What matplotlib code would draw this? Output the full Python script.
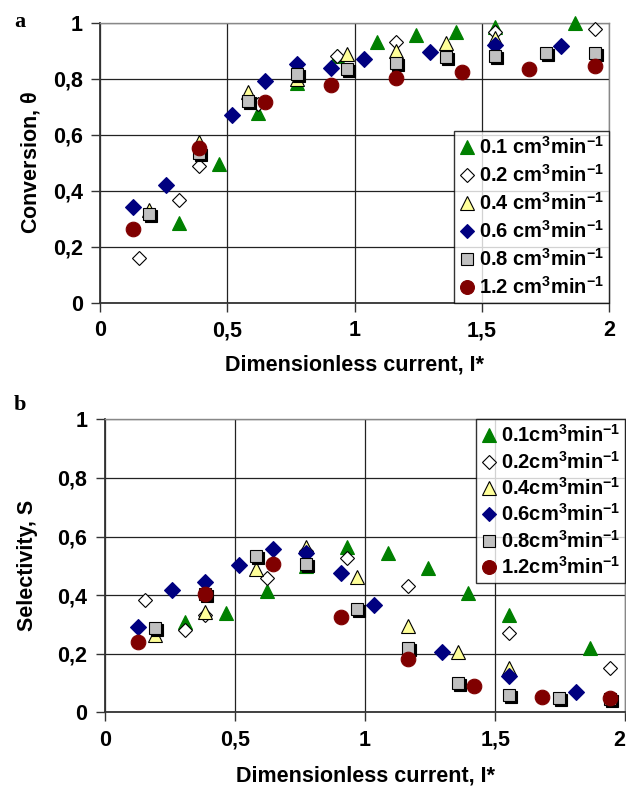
import matplotlib
matplotlib.use("Agg")
import matplotlib.pyplot as plt
from matplotlib import transforms

plt.rcParams['font.family'] = ['Liberation Sans', 'DejaVu Sans']
plt.rcParams['font.weight'] = 'bold'
plt.rcParams['axes.labelweight'] = 'bold'
plt.rcParams['mathtext.default'] = 'regular'

# ---- panel a: conversion ----
a_x_01 = [0.31, 0.467, 0.622, 0.776, 0.93, 1.09, 1.243, 1.40, 1.554, 1.865]
a_y_01 = [0.284, 0.495, 0.676, 0.786, 0.881, 0.932, 0.956, 0.968, 0.986, 0.998]
a_x_02 = [0.155, 0.31, 0.389, 0.622, 0.93, 1.165, 1.554, 1.944]
a_y_02 = [0.159, 0.367, 0.488, 0.71, 0.88, 0.932, 0.968, 0.976]
a_x_04 = [0.194, 0.389, 0.583, 0.776, 0.971, 1.165, 1.359, 1.554]
a_y_04 = [0.33, 0.575, 0.754, 0.80, 0.89, 0.90, 0.926, 0.944]
a_x_06 = [0.128, 0.259, 0.517, 0.648, 0.776, 0.906, 1.037, 1.296, 1.554, 1.813]
a_y_06 = [0.343, 0.42, 0.669, 0.792, 0.851, 0.839, 0.869, 0.896, 0.92, 0.918]
a_x_08 = [0.194, 0.389, 0.583, 0.776, 0.971, 1.165, 1.359, 1.554, 1.752, 1.944]
a_y_08 = [0.317, 0.536, 0.721, 0.817, 0.835, 0.857, 0.879, 0.881, 0.891, 0.893]
a_x_12 = [0.128, 0.389, 0.648, 0.906, 1.165, 1.424, 1.685, 1.944]
a_y_12 = [0.264, 0.551, 0.718, 0.776, 0.801, 0.824, 0.836, 0.845]

# ---- panel b: selectivity ----
b_x_01 = [0.308, 0.466, 0.622, 0.775, 0.931, 1.089, 1.242, 1.396, 1.553, 1.863]
b_y_01 = [0.307, 0.34, 0.414, 0.50, 0.565, 0.543, 0.491, 0.406, 0.332, 0.218]
b_x_02 = [0.155, 0.308, 0.385, 0.622, 0.775, 0.931, 1.166, 1.553, 1.942]
b_y_02 = [0.383, 0.281, 0.332, 0.459, 0.55, 0.528, 0.431, 0.27, 0.15]
b_x_04 = [0.193, 0.385, 0.583, 0.775, 0.97, 1.166, 1.358, 1.553]
b_y_04 = [0.264, 0.343, 0.488, 0.565, 0.463, 0.295, 0.207, 0.15]
b_x_06 = [0.129, 0.257, 0.385, 0.517, 0.647, 0.775, 0.906, 1.035, 1.294, 1.553, 1.812]
b_y_06 = [0.292, 0.417, 0.446, 0.503, 0.556, 0.545, 0.477, 0.366, 0.207, 0.124, 0.07]
b_x_08 = [0.193, 0.385, 0.583, 0.775, 0.97, 1.166, 1.358, 1.553, 1.745, 1.942]
b_y_08 = [0.287, 0.404, 0.535, 0.506, 0.353, 0.218, 0.101, 0.059, 0.048, 0.045]
b_x_12 = [0.129, 0.385, 0.647, 0.906, 1.166, 1.42, 1.681, 1.942]
b_y_12 = [0.241, 0.404, 0.505, 0.326, 0.181, 0.09, 0.053, 0.048]

flows = ['0.1', '0.2', '0.4', '0.6', '0.8', '1.2']
x_ticks = [0, 0.5, 1, 1.5, 2]
x_labels = ['0', '0,5', '1', '1,5', '2']
y_ticks = [0, 0.2, 0.4, 0.6, 0.8, 1]
y_labels = ['0', '0,2', '0,4', '0,6', '0,8', '1']

# marker, size, face, edge
styles = [
    ('^', 10, '#008000', '#008000'),
    ('D', 7, 'white', 'black'),
    ('^', 10, '#FFFF99', 'black'),
    ('D', 8, '#000080', '#000080'),
    ('s', 8.5, '#C0C0C0', 'black'),
    ('o', 10.5, '#800000', '#800000'),
]


def draw_panel(fig, ax, series, ylabel, sep, ylabelpad, xlabelpad, leg_kw):
    for i, (xs, ys) in enumerate(series):
        m, ms, fc, ec = styles[i]
        if m == 's':
            # black drop shadow behind the grey squares
            shadow = transforms.offset_copy(ax.transData, fig=fig, x=2, y=-2, units='dots')
            ax.plot(xs, ys, ls='none', marker='s', ms=ms, mfc='black', mec='black',
                    mew=0.8, transform=shadow, clip_on=False, zorder=3 + i)
        ax.plot(xs, ys, ls='none', marker=m, ms=ms, mfc=fc, mec=ec, mew=0.8,
                label=flows[i] + sep + 'cm$^3$min$^{-1}$', clip_on=False, zorder=3 + i)

    ax.set_xlim(0, 2)
    ax.set_ylim(0, 1)
    ax.set_xticks(x_ticks)
    ax.set_xticklabels(x_labels)
    ax.set_yticks(y_ticks)
    ax.set_yticklabels(y_labels)
    ax.tick_params(direction='out', length=6.5, width=1, labelsize=15.5, pad=6,
                   color='#333333')
    ax.grid(True, color='#222222', lw=0.9)
    ax.set_axisbelow(True)
    for s in ['left', 'bottom']:
        ax.spines[s].set_color('#333333')
        ax.spines[s].set_linewidth(1.3)
    for s in ['top', 'right']:
        ax.spines[s].set_color('#888888')
        ax.spines[s].set_linewidth(1)
    ax.set_xlabel('Dimensionless current, I*', fontsize=15.5, labelpad=xlabelpad)
    ax.set_ylabel(ylabel, fontsize=15.5, labelpad=ylabelpad)

    leg = ax.legend(fontsize=14.5, frameon=True, fancybox=False,
                    edgecolor='black', borderaxespad=0, handlelength=0.8,
                    handletextpad=0.2, borderpad=0.25, markerscale=0.95, **leg_kw)
    leg.get_frame().set_linewidth(1)
    leg.set_zorder(20)


fig = plt.figure(figsize=(6.26, 7.88), dpi=100)
ax_a = fig.add_axes([100 / 626, 1 - 302.7 / 788, 509 / 626, 280 / 788])
ax_b = fig.add_axes([104.7 / 626, 1 - 712.3 / 788, 520.6 / 626, 293 / 788])

draw_panel(fig, ax_a,
           [(a_x_01, a_y_01), (a_x_02, a_y_02), (a_x_04, a_y_04),
            (a_x_06, a_y_06), (a_x_08, a_y_08), (a_x_12, a_y_12)],
           'Conversion, $\\theta$', ' ', 8, 10,
           dict(loc='lower right', labelspacing=0.3))
draw_panel(fig, ax_b,
           [(b_x_01, b_y_01), (b_x_02, b_y_02), (b_x_04, b_y_04),
            (b_x_06, b_y_06), (b_x_08, b_y_08), (b_x_12, b_y_12)],
           'Selectivity, S', '', 14, 11,
           dict(loc='upper right', labelspacing=0.22))

# the last tick label of panel b sits flush with the figure edge
ax_b.get_xticklabels()[-1].set_ha('right')

fig.text(20 / 626, 1 - 22 / 788, 'a', family='Liberation Serif', weight='bold',
         fontsize=16, ha='center', va='center')
fig.text(20 / 626, 1 - 405 / 788, 'b', family='Liberation Serif', weight='bold',
         fontsize=16, ha='center', va='center')

fig.savefig('out.png', dpi=100)
